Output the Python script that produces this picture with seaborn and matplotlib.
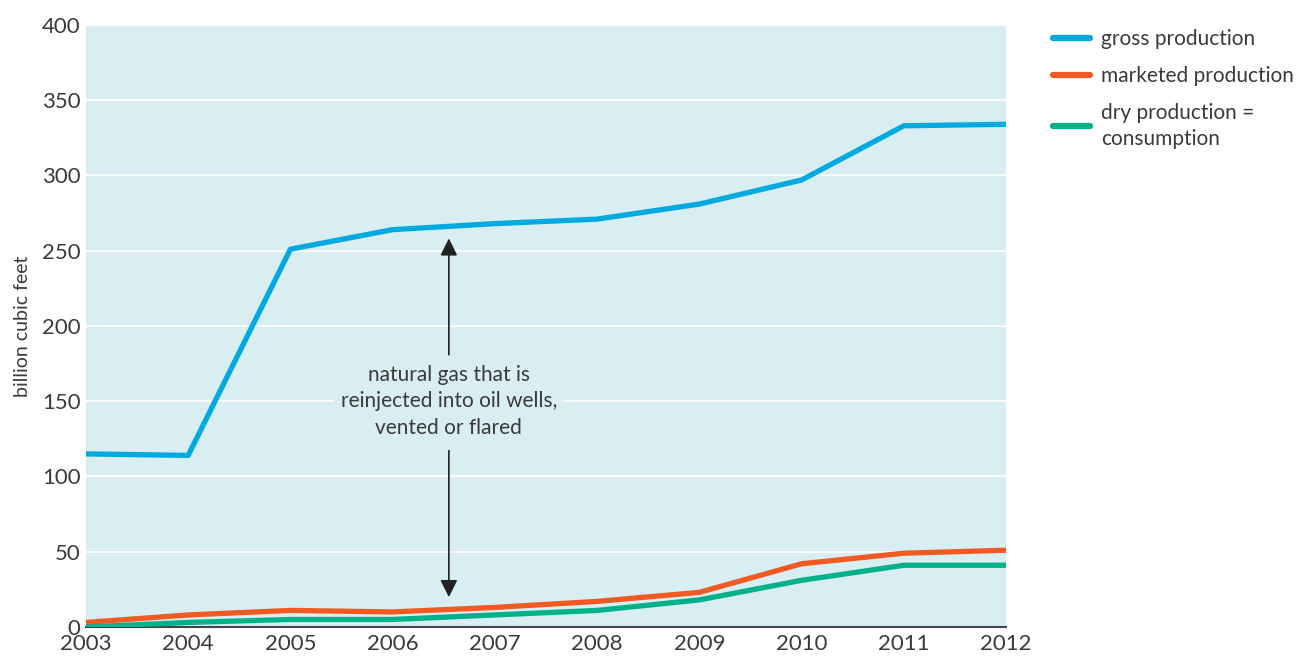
import matplotlib
matplotlib.use("Agg")
import matplotlib.pyplot as plt
import numpy as np
import pandas as pd
import seaborn as sns

years = [2003, 2004, 2005, 2006, 2007, 2008, 2009, 2010, 2011, 2012]
gross = [115, 114, 251, 264, 268, 271, 281, 297, 333, 334]
marketed = [3, 8, 11, 10, 13, 17, 23, 42, 49, 51]
dry = [0, 3, 5, 5, 8, 11, 18, 31, 41, 41]

series_names = ["gross production", "marketed production", "dry production =\nconsumption"]
series_colors = ["#00a9e0", "#f15a22", "#00b189"]
annotation = "natural gas that is\nreinjected into oil wells,\nvented or flared"
arrow_year = 2006.55
arrow_top = 260
arrow_bottom = 18
text_level = 150

df = pd.DataFrame({
    "year": years * 3,
    "value": gross + marketed + dry,
    "series": sum([[n] * len(years) for n in series_names], []),
})

sns.set_theme(style="white")
plt.rcParams["font.family"] = ["Lato", "DejaVu Sans"]
text_color = "#3a3a3a"

fig = plt.figure(figsize=(13.02, 6.57), dpi=100)
ax = fig.add_axes([0.066, 0.0457, 0.7067, 0.9163])
ax.set_facecolor("#d8eef2")

sns.lineplot(data=df, x="year", y="value", hue="series", hue_order=series_names,
             palette=series_colors, linewidth=3.8, ax=ax, zorder=3)

ax.set_xlim(2003, 2012)
ax.set_ylim(0, 400)
ax.set_yticks(np.arange(0, 401, 50))
ax.set_xticks(years)
ax.grid(axis="y", color="white", linewidth=1.2, zorder=0)
ax.set_axisbelow(True)
for s in ["left", "right", "top"]:
    ax.spines[s].set_visible(False)
ax.spines["bottom"].set_color("#444444")
ax.spines["bottom"].set_linewidth(1.5)
ax.tick_params(axis="x", direction="in", length=6, width=1, color="#444444",
               labelsize=16, labelcolor=text_color, pad=5)
ax.tick_params(axis="y", length=0, labelsize=16, labelcolor=text_color, pad=4)
ax.set_xlabel("")
ax.set_ylabel("billion cubic feet", fontsize=14, color=text_color, labelpad=8)

# double-headed arrow with text in the middle
ax.annotate("", xy=(arrow_year, arrow_top), xytext=(arrow_year, 179),
            arrowprops=dict(arrowstyle="-|>", color="#222222", lw=1.2, mutation_scale=26), zorder=4)
ax.annotate("", xy=(arrow_year, arrow_bottom), xytext=(arrow_year, 119),
            arrowprops=dict(arrowstyle="-|>", color="#222222", lw=1.2, mutation_scale=26), zorder=4)
ax.text(arrow_year, text_level, annotation, ha="center", va="center", fontsize=15,
        color=text_color, linespacing=1.4, zorder=5,
        bbox=dict(facecolor="#d8eef2", edgecolor="none", pad=5))

handles, labels = ax.get_legend_handles_labels()
leg = ax.legend(handles, labels, loc="upper left", bbox_to_anchor=(1.051, 0.993),
                frameon=False, fontsize=15, handlelength=1.8, handletextpad=0.5,
                labelspacing=0.8, borderpad=0, borderaxespad=0, labelcolor=text_color)
for line in leg.get_lines():
    line.set_linewidth(4.5)
for t in leg.get_texts():
    t.set_linespacing(1.4)

fig.savefig("out.png", dpi=100)
